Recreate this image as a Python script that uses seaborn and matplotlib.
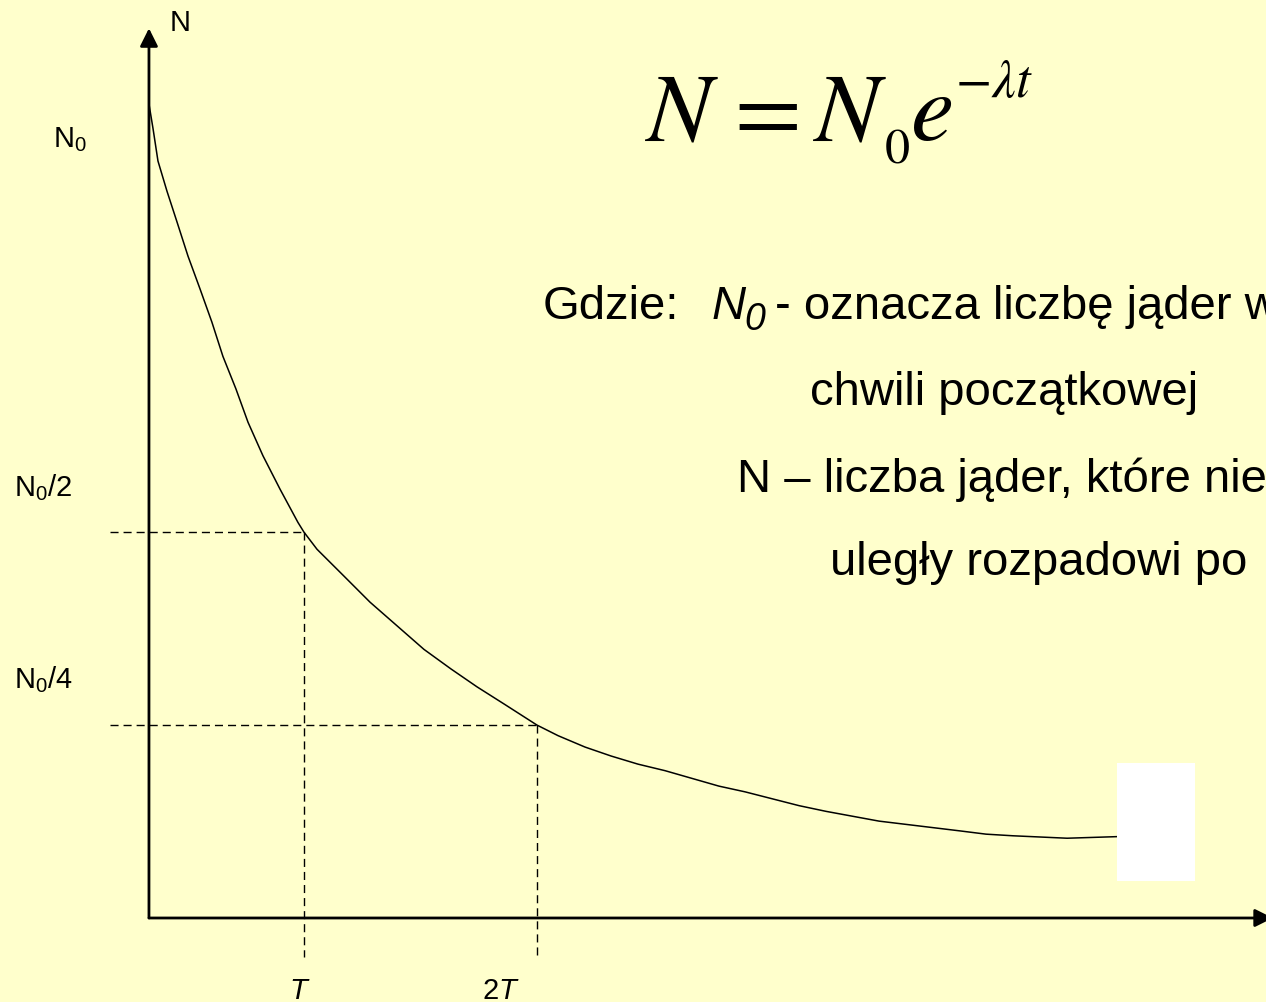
import numpy as np
import pandas as pd
import seaborn as sns
import matplotlib.pyplot as plt

# curve: t in units of T, N as fraction of N0
t_vals = [0.0, 0.026, 0.058, 0.116, 0.181, 0.252, 0.329, 0.406, 0.477, 0.561,
          0.639, 0.735, 0.845, 0.961, 1.0, 1.084, 1.258, 1.426, 1.6, 1.774,
          1.948, 2.116, 2.29, 2.503, 2.639, 2.813, 2.981, 3.155, 3.329, 3.677,
          3.845, 4.194, 4.368, 4.71, 4.884, 5.232, 5.4, 5.574, 5.923, 6.252]
n_vals = [1.0, 0.97, 0.93, 0.893, 0.855, 0.813, 0.773, 0.732, 0.69, 0.65,
          0.609, 0.568, 0.527, 0.486, 0.474, 0.453, 0.42, 0.388, 0.359, 0.33,
          0.306, 0.284, 0.263, 0.237, 0.224, 0.21, 0.199, 0.189, 0.181, 0.162,
          0.155, 0.138, 0.131, 0.119, 0.115, 0.107, 0.103, 0.101, 0.098, 0.1]

# half-life marks
half_t = [1.0, 2.503]
half_n = [0.474, 0.237]
half_labels = ["$T$", "2$T$"]
n_labels = ["N$_0$/2", "N$_0$/4"]

# white box covering the end of the curve
box_t = [6.245, 6.748]
box_n = [0.045, 0.19]

bg = "#FFFFCC"
sns.set_theme(style="white", rc={"figure.facecolor": bg, "axes.facecolor": bg,
                                 "text.color": "black"})
plt.rcParams["font.family"] = ["Liberation Sans", "DejaVu Sans"]
plt.rcParams["mathtext.fontset"] = "custom"
plt.rcParams["mathtext.rm"] = "Liberation Sans"
plt.rcParams["mathtext.it"] = "Liberation Sans:italic"

fig = plt.figure(figsize=(12.66, 10.03), dpi=100)
ax = fig.add_axes([0, 0, 1, 1])
ax.set_xlim(-0.961, 7.206)
ax.set_ylim(-0.1032, 1.129)
ax.axis("off")

df = pd.DataFrame({"t": t_vals, "N": n_vals})
sns.lineplot(data=df, x="t", y="N", sort=False, color="black", lw=1.1, ax=ax)

# dashed guides
dash = (0, (5.8, 3.6))
for tt, nn in zip(half_t, half_n):
    ax.plot([-0.252, tt], [nn, nn], color="black", lw=1.0, linestyle=dash)
    ax.plot([tt, tt], [nn, -0.048], color="black", lw=1.0, linestyle=dash)

ax.fill_between(box_t, box_n[0], box_n[1], color="white", lw=0, zorder=5)

# axes with arrows
arrow = dict(arrowstyle="-|>,head_length=0.4,head_width=0.2", lw=2.0,
             color="black", mutation_scale=27, shrinkA=0, shrinkB=0)
ax.annotate("", xy=(0, 1.093), xytext=(0, 0), arrowprops=arrow, annotation_clip=False)
ax.annotate("", xy=(7.25, 0), xytext=(0, 0), arrowprops=arrow, annotation_clip=False)

# axis labels
ax.text(0.135, 1.091, "N", fontsize=21, va="baseline")
ax.text(-0.619, 0.948, "N$_0$", fontsize=21, va="baseline")
for nn, lab in zip(half_n, n_labels):
    ax.text(-0.871, nn + 0.046, lab, fontsize=21, va="baseline")
for tt, lab in zip(half_t, half_labels):
    ax.text(tt - 0.097 - 0.26 * (len(lab) > 3), -0.098, lab, fontsize=21, va="baseline")

# formula, built from pieces to get the spacing of the original
W, H = 1266, 1003
formula = [(645, 140, r"$N$", 70), (720, 140, r"$=$", 70), (813, 140, r"$N$", 70),
           (884, 163, r"$\mathrm{0}$", 36), (910, 140, r"$e$", 70),
           (955, 97, r"$-\lambda t$", 38)]
for px, py, s, size in formula:
    fig.text(px / W, 1 - py / H, s, fontsize=size, va="baseline", math_fontfamily="stix")

# description
fs = 34
fig.text(543 / W, 1 - 319 / H, "Gdzie:", fontsize=fs, va="baseline")
fig.text(712 / W, 1 - 319 / H, "N", fontsize=fs, style="italic", va="baseline")
fig.text(744 / W, 1 - 330 / H, "0", fontsize=27, style="italic", va="baseline")
fig.text(775 / W, 1 - 319 / H, "- oznacza liczbę jąder w", fontsize=fs, va="baseline")
fig.text(810 / W, 1 - 405 / H, "chwili początkowej", fontsize=fs, va="baseline")
fig.text(737 / W, 1 - 492 / H, "N – liczba jąder, które nie", fontsize=fs, va="baseline")
fig.text(830 / W, 1 - 575 / H, "uległy rozpadowi po", fontsize=fs, va="baseline")

fig.savefig("out.png", dpi=100, facecolor=bg)
